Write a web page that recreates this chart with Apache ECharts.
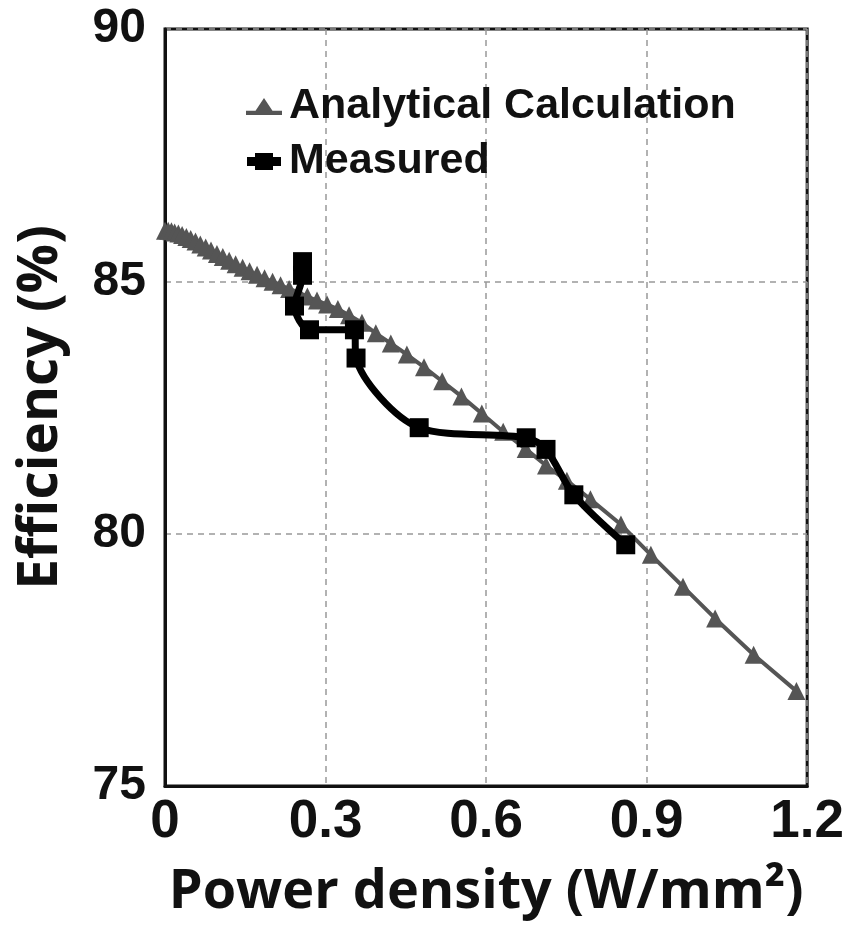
<!DOCTYPE html>
<html>
<head>
<meta charset="utf-8">
<script src="https://cdn.jsdelivr.net/npm/echarts@6/dist/echarts.min.js"></script>
<style>
  html, body { margin: 0; padding: 0; background: #fff; }
  #chart { width: 847px; height: 925px; }
</style>
</head>
<body>
<div id="chart"></div>
<script>
// Analytical efficiency model vs. power density
const analyticalX = [0.000, 0.006, 0.012, 0.018, 0.025, 0.032, 0.040, 0.048, 0.057, 0.066,
  0.076, 0.086, 0.097, 0.108, 0.120, 0.132, 0.145, 0.158, 0.172, 0.186,
  0.201, 0.216, 0.232, 0.249, 0.266, 0.284, 0.303, 0.323, 0.344, 0.368,
  0.394, 0.422, 0.452, 0.484, 0.518, 0.554, 0.592, 0.632, 0.674, 0.712,
  0.751, 0.795, 0.852, 0.908, 0.968, 1.028, 1.100, 1.180];
const analyticalY = [86.00, 86.00, 85.99, 85.97, 85.95, 85.92, 85.88, 85.84, 85.79, 85.73,
  85.67, 85.61, 85.54, 85.48, 85.41, 85.34, 85.27, 85.20, 85.13, 85.06,
  84.99, 84.92, 84.85, 84.78, 84.70, 84.62, 84.54, 84.45, 84.33, 84.18,
  83.97, 83.77, 83.55, 83.30, 83.02, 82.72, 82.38, 82.02, 81.68, 81.35,
  81.05, 80.68, 80.18, 79.58, 78.95, 78.32, 77.60, 76.88];

// Measured operating points, in acquisition order
const measuredX = [0.257, 0.257, 0.242, 0.270, 0.354, 0.357, 0.475, 0.675, 0.712, 0.764, 0.861];
const measuredY = [85.39, 85.12, 84.51, 84.04, 84.04, 83.48, 82.10, 81.90, 81.67, 80.77, 79.78];

const xTicks = [0, 0.3, 0.6, 0.9, 1.2];
const yTicks = [75, 80, 85, 90];

const seriesNames = ['Analytical Calculation', 'Measured'];

const zip = (xs, ys) => xs.map((x, i) => [x, ys[i]]);

const chart = echarts.init(document.getElementById('chart'), null, { renderer: 'canvas' });

const labelFont = '"Liberation Sans", Arial, sans-serif';
const titleFont = '"Open Sans", "Noto Sans", sans-serif';

// legend glyphs: a short line stub with the series marker on it
const triIcon = 'path://M0,12 H9 L17,0 L25,12 H34 V16 H0 Z';
const sqIcon = 'path://M0,4 H8 V0 H26 V4 H34 V13 H26 V17 H8 V13 H0 Z';

chart.setOption({
  backgroundColor: '#ffffff',
  animation: false,
  grid: {
    left: 165, right: 39, top: 29, bottom: 134,
    show: true, borderColor: '#111', borderWidth: 3, backgroundColor: 'transparent'
  },
  legend: {
    orient: 'vertical',
    left: 241, top: 80,
    itemGap: 12,
    itemWidth: 36, itemHeight: 17,
    textStyle: { fontFamily: labelFont, fontWeight: 'bold', fontSize: 43, color: '#111', padding: [0, 0, 0, 2] },
    data: [
      { name: seriesNames[0], icon: triIcon, itemStyle: { color: '#555' } },
      { name: seriesNames[1], icon: sqIcon, itemStyle: { color: '#000' } }
    ]
  },
  xAxis: {
    type: 'value',
    min: xTicks[0], max: xTicks[xTicks.length - 1], interval: 0.3,
    name: 'Power density (W/mm\u00B2)',
    nameLocation: 'middle', nameGap: 80,
    nameTextStyle: { fontFamily: titleFont, fontWeight: 'bold', fontSize: 54, color: '#111' },
    axisLine: { show: true, lineStyle: { color: '#111', width: 3 } },
    axisTick: { show: false },
    axisLabel: {
      margin: 10, fontFamily: labelFont, fontWeight: 'bold', fontSize: 53, color: '#111',
      formatter: v => (v === 0 ? '0' : v.toFixed(1))
    },
    splitLine: { show: true, lineStyle: { color: '#999', type: [6, 5], width: 1.5 } }
  },
  yAxis: {
    type: 'value',
    min: yTicks[0], max: yTicks[yTicks.length - 1], interval: 5,
    name: 'Efficiency (%)',
    nameLocation: 'middle', nameGap: 96, nameRotate: 90,
    nameTextStyle: { fontFamily: titleFont, fontWeight: 'bold', fontSize: 55, color: '#111' },
    axisLine: { show: true, lineStyle: { color: '#111', width: 3 } },
    axisTick: { show: false },
    axisLabel: { margin: 19, fontFamily: labelFont, fontWeight: 'bold', fontSize: 48, color: '#111' },
    splitLine: { show: true, lineStyle: { color: '#999', type: [6, 5], width: 1.5 } }
  },
  series: [
    {
      name: seriesNames[0],
      type: 'line',
      data: zip(analyticalX, analyticalY),
      symbol: 'triangle',
      symbolSize: 18,
      lineStyle: { color: '#555', width: 4 },
      itemStyle: { color: '#555' },
      z: 2
    },
    {
      name: seriesNames[1],
      type: 'line',
      data: zip(measuredX, measuredY),
      smooth: 0.3,
      symbol: 'rect',
      symbolSize: 19,
      lineStyle: { color: '#000', width: 7 },
      itemStyle: { color: '#000' },
      z: 3
    }
  ]
});
</script>
</body>
</html>
